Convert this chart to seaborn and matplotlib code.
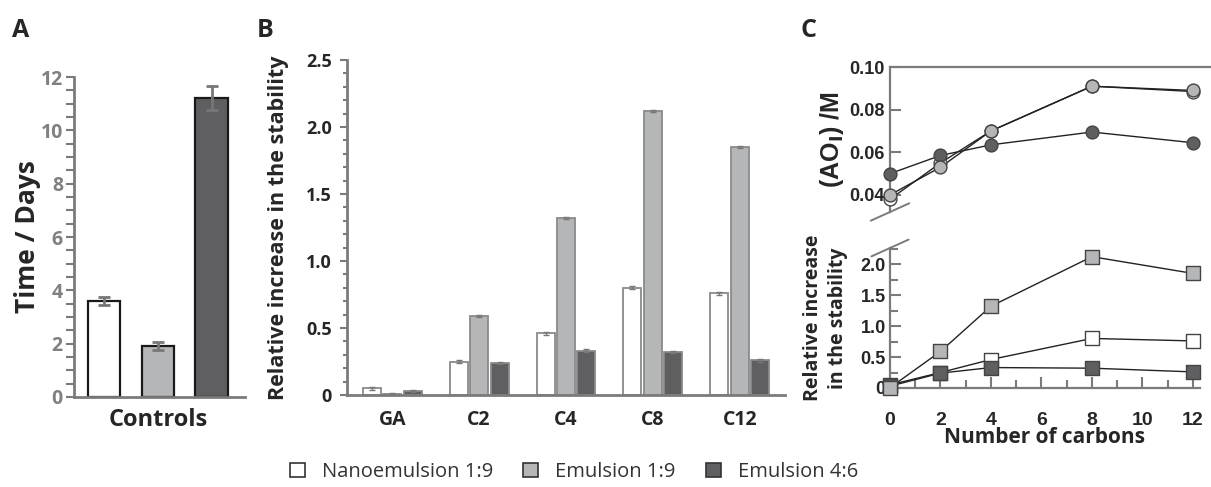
import numpy as np
import pandas as pd
import matplotlib
matplotlib.use("Agg")
import matplotlib.pyplot as plt
import seaborn as sns
from matplotlib.patches import Patch
from matplotlib.ticker import MultipleLocator, FuncFormatter

# series shared by all panels
series = ["Nanoemulsion 1:9", "Emulsion 1:9", "Emulsion 4:6"]
fills = ["#ffffff", "#b5b6b8", "#5f5f61"]

# panel A: controls (days)
control_days = [3.6, 1.9, 11.2]
control_err = [0.15, 0.15, 0.45]

# panel B: relative increase in stability
samples = ["GA", "C2", "C4", "C8", "C12"]
nano_rel = [0.05, 0.25, 0.46, 0.80, 0.76]
emu19_rel = [0.005, 0.59, 1.32, 2.12, 1.85]
emu46_rel = [0.03, 0.24, 0.33, 0.32, 0.26]
rel_err = [0.01, 0.01, 0.01, 0.01, 0.01]

# panel C: number of carbons vs (AO_I) and relative increase
carbons = [0, 2, 4, 8, 12]
nano_ao = [0.038, 0.055, 0.070, 0.091, 0.0885]
emu19_ao = [0.040, 0.053, 0.070, 0.091, 0.089]
emu46_ao = [0.050, 0.0585, 0.0635, 0.0695, 0.0645]

sns.set_style("white")
plt.rcParams["font.family"] = ["Open Sans", "DejaVu Sans"]
plt.rcParams["mathtext.default"] = "bf"

grey = "#7b7b7b"
fig = plt.figure(figsize=(12.11, 4.87), dpi=100)

# ---------- A ----------
axA = fig.add_axes([74 / 1211, 1 - 397 / 487, 171 / 1211, 320 / 487])
dfA = pd.DataFrame({"group": ["Controls"] * 3, "series": series, "days": control_days})
sns.barplot(data=dfA, x="group", y="days", hue="series", hue_order=series,
            palette=fills, width=0.8, gap=0.39, edgecolor="#1a1a1a", linewidth=1.6,
            errorbar=None, legend=False, ax=axA)
bars_A = list(axA.containers)
for cont, err in zip(bars_A, control_err):
    for bar in cont:
        axA.errorbar(bar.get_x() + bar.get_width() / 2, bar.get_height(), yerr=err,
                     fmt="none", ecolor="#777777", elinewidth=2, capsize=4, capthick=2)
axA.set_ylim(0, 12)
axA.set_xlim(-0.415, 0.43)
axA.yaxis.set_major_locator(MultipleLocator(2))
axA.yaxis.set_minor_locator(MultipleLocator(0.5))
axA.tick_params(axis="y", which="both", direction="out", length=6, width=1.5,
                color=grey, labelcolor="#808080", labelsize=14, left=True, pad=2)
axA.tick_params(axis="x", length=0, labelsize=17, pad=8)
for lab in axA.get_yticklabels() + axA.get_xticklabels():
    lab.set_fontweight("bold")
axA.set_xlabel("")
axA.set_ylabel("Time / Days", fontsize=19, fontweight="bold", labelpad=0)
sns.despine(ax=axA)
for s in ["left", "bottom"]:
    axA.spines[s].set_color(grey)
    axA.spines[s].set_linewidth(2)

# ---------- B ----------
axB = fig.add_axes([347 / 1211, 1 - 395 / 487, 438 / 1211, 335 / 487])
dfB = pd.DataFrame({
    "sample": samples * 3,
    "series": np.repeat(series, len(samples)),
    "rel": nano_rel + emu19_rel + emu46_rel,
})
sns.barplot(data=dfB, x="sample", y="rel", hue="series", hue_order=series,
            palette=fills, width=0.707, gap=0.12, edgecolor="#8a8a8a", linewidth=1.3,
            errorbar=None, legend=False, ax=axB)
bars_B = list(axB.containers)
for cont in bars_B:
    for bar, err in zip(cont, rel_err):
        axB.errorbar(bar.get_x() + bar.get_width() / 2, bar.get_height(), yerr=err,
                     fmt="none", ecolor="#777777", elinewidth=1, capsize=2.5, capthick=1)
axB.set_ylim(0, 2.5)
axB.set_xlim(-0.52, 4.52)
axB.yaxis.set_major_locator(MultipleLocator(0.5))
axB.yaxis.set_minor_locator(MultipleLocator(0.1))
axB.yaxis.set_major_formatter(FuncFormatter(lambda v, p: "0" if abs(v) < 1e-9 else f"{v:.1f}"))
axB.tick_params(axis="y", which="major", direction="out", length=5, width=1.5,
                color=grey, labelsize=13, left=True, pad=6)
axB.tick_params(axis="y", which="minor", direction="out", length=3, width=1.5,
                color=grey, left=True)
axB.tick_params(axis="x", length=0, labelsize=14, pad=11)
for lab in axB.get_yticklabels() + axB.get_xticklabels():
    lab.set_fontweight("bold")
axB.set_xlabel("")
axB.set_ylabel("Relative increase in the stability", fontsize=15.5, fontweight="bold",
               labelpad=12)
sns.despine(ax=axB)
for s in ["left", "bottom"]:
    axB.spines[s].set_color(grey)
    axB.spines[s].set_linewidth(2)

# ---------- C top ----------
arial = ["Liberation Sans", "DejaVu Sans"]
axC1 = fig.add_axes([890 / 1211, 1 - 212 / 487, 321 / 1211, 145 / 487])
dfC1 = pd.DataFrame({
    "carbons": carbons * 3,
    "series": np.repeat(series, len(carbons)),
    "ao": nano_ao + emu19_ao + emu46_ao,
})
draw_order = ["Nanoemulsion 1:9", "Emulsion 4:6", "Emulsion 1:9"]
for name in draw_order:
    sub = dfC1[dfC1["series"] == name]
    sns.lineplot(data=sub, x="carbons", y="ao", color="#222222", linewidth=1.0,
                 ax=axC1, zorder=2)
    sns.scatterplot(data=sub, x="carbons", y="ao", color=fills[series.index(name)],
                    s=85, edgecolor="#444444", linewidth=1.0, ax=axC1, zorder=3,
                    clip_on=False)
axC1.set_xlim(0, 12.72)
axC1.set_ylim(0.032, 0.10)
axC1.set_yticks([0.04, 0.06, 0.08, 0.10])
axC1.yaxis.set_major_formatter(FuncFormatter(lambda v, p: f"{v:.2f}"))
axC1.set_xticks([])
axC1.tick_params(axis="y", direction="in", length=8, width=1.5, color=grey,
                 labelsize=13, left=True, pad=4)
for lab in axC1.get_yticklabels():
    lab.set_fontweight("bold")
    lab.set_family(arial)
axC1.set_xlabel("")
axC1.set_ylabel("(AO$_\\mathbf{I}$) /M", fontsize=18, fontweight="bold",
                family=arial, labelpad=2)
axC1.spines["right"].set_visible(False)
axC1.spines["bottom"].set_visible(False)
for s in ["left", "top"]:
    axC1.spines[s].set_color(grey)
    axC1.spines[s].set_linewidth(1.6)
axC1.plot([-0.06, 0.06], [-0.06, 0.06], transform=axC1.transAxes, color=grey,
          lw=1.4, clip_on=False)

# ---------- C bottom ----------
axC2 = fig.add_axes([890 / 1211, 1 - 388 / 487, 310 / 1211, 140 / 487])
dfC2 = dfB.copy()
dfC2["carbons"] = carbons * 3
for name in draw_order:
    sub = dfC2[dfC2["series"] == name]
    sns.lineplot(data=sub, x="carbons", y="rel", color="#222222", linewidth=1.0,
                 ax=axC2, zorder=2)
    sns.scatterplot(data=sub, x="carbons", y="rel", color=fills[series.index(name)],
                    marker="s", s=90, edgecolor="#444444", linewidth=1.0, ax=axC2,
                    zorder=3, clip_on=False)
axC2.set_xlim(0, 12.28)
axC2.set_ylim(0, 2.26)
axC2.xaxis.set_major_locator(MultipleLocator(2))
axC2.xaxis.set_minor_locator(MultipleLocator(1))
axC2.yaxis.set_major_locator(MultipleLocator(0.5))
axC2.yaxis.set_minor_locator(MultipleLocator(0.25))
axC2.yaxis.set_major_formatter(FuncFormatter(lambda v, p: "0" if abs(v) < 1e-9 else f"{v:.1f}"))
axC2.tick_params(axis="both", which="major", direction="in", length=8, width=1.5,
                 color=grey, labelsize=13, left=True, bottom=True, pad=3)
axC2.tick_params(axis="both", which="minor", direction="in", length=6, width=1.5,
                 color=grey, left=True, bottom=True)
axC2.tick_params(axis="x", labelsize=14, pad=17)
for lab in axC2.get_yticklabels() + axC2.get_xticklabels():
    lab.set_fontweight("bold")
    lab.set_family(arial)
axC2.set_xlabel("Number of carbons", fontsize=15, fontweight="bold", labelpad=-1)
axC2.set_ylabel("Relative increase\nin the stability", fontsize=14,
                fontweight="bold", labelpad=9, linespacing=1.35)
sns.despine(ax=axC2)
for s in ["left", "bottom"]:
    axC2.spines[s].set_color(grey)
    axC2.spines[s].set_linewidth(1.6)
axC2.plot([-0.06, 0.06], [0.94, 1.06], transform=axC2.transAxes, color=grey,
          lw=1.4, clip_on=False)

# ---------- panel letters and legend ----------
fig.text(12 / 1211, 1 - 37 / 487, "A", fontsize=18, fontweight="bold")
fig.text(257 / 1211, 1 - 37 / 487, "B", fontsize=18, fontweight="bold")
fig.text(801 / 1211, 1 - 37 / 487, "C", fontsize=18, fontweight="bold")

handles = [Patch(facecolor=c, edgecolor="#333333", linewidth=1.2) for c in fills]
fig.legend(handles, series, loc="center", bbox_to_anchor=(574 / 1211, 1 - 472 / 487),
           ncol=3, frameon=False, fontsize=14.5, handlelength=0.75, handleheight=0.75,
           columnspacing=1.5, handletextpad=0.85, labelcolor="#333333",
           borderaxespad=0, borderpad=0)

fig.savefig("out.png", dpi=100)
